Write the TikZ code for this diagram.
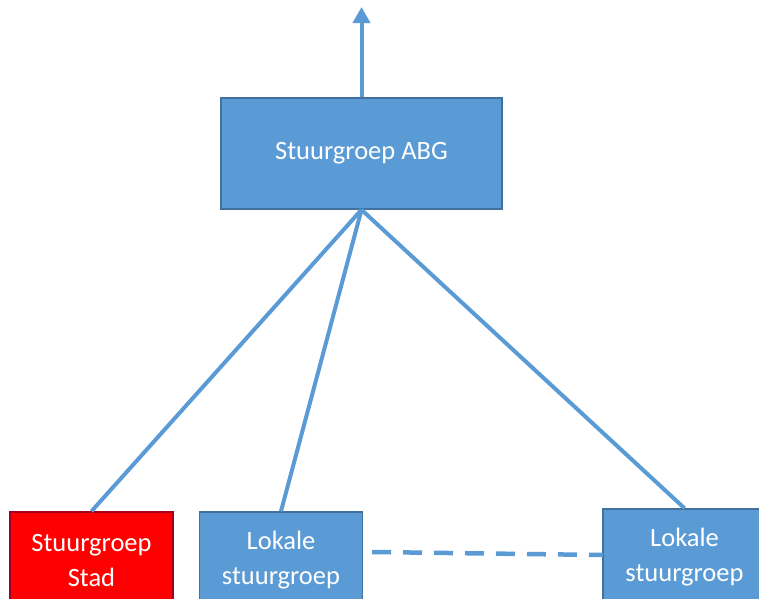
\documentclass[tikz,border=0pt]{standalone}
\usepackage{fontspec}
\setmainfont{Carlito}
\usetikzlibrary{arrows.meta}
\definecolor{boxblue}{HTML}{5B9BD5}
\definecolor{edgeblue}{HTML}{41719C}
\definecolor{boxred}{HTML}{FF0000}
\definecolor{edgered}{HTML}{A50021}
\tikzset{
  box/.style={draw=edgeblue, fill=boxblue, line width=1.5pt, text=white, align=center,
    font=\fontsize{26.5}{35}\selectfont, inner sep=0pt},
  redbox/.style={box, draw=edgered, fill=boxred},
  conn/.style={draw=boxblue, line width=4pt},
  dashconn/.style={conn, line width=4.5pt, dash pattern=on 19pt off 12pt}
}
\begin{document}
\begin{tikzpicture}[x=1pt,y=-1pt]
\useasboundingbox (0,0) rectangle (759,598);
\clip (0,0) rectangle (759,598);
\coordinate (top) at (361.5,7);
\coordinate (d1) at (372,552);
\coordinate (d2) at (603,555);
\node[box, minimum width=281, minimum height=111] (abg) at (361.5,153.5) {Stuurgroep ABG};
\node[redbox, minimum width=163, minimum height=96] (stad) at (91.5,560) {Stuurgroep\\Stad};
\node[box, minimum width=163, minimum height=96] (lok1) at (281,560) {Lokale\\stuurgroep};
\node[box, minimum width=163, minimum height=96] (lok2) at (684.5,557) {Lokale\\stuurgroep};
\draw[conn, -{Triangle[width=17pt,length=16pt]}] (abg.north) -- (top);
\draw[conn] (abg.south) -- (stad.north);
\draw[conn] (abg.south) -- (lok1.north);
\draw[conn] (abg.south) -- (lok2.north);
\draw[dashconn] (d1) -- (d2);
\end{tikzpicture}
\end{document}
